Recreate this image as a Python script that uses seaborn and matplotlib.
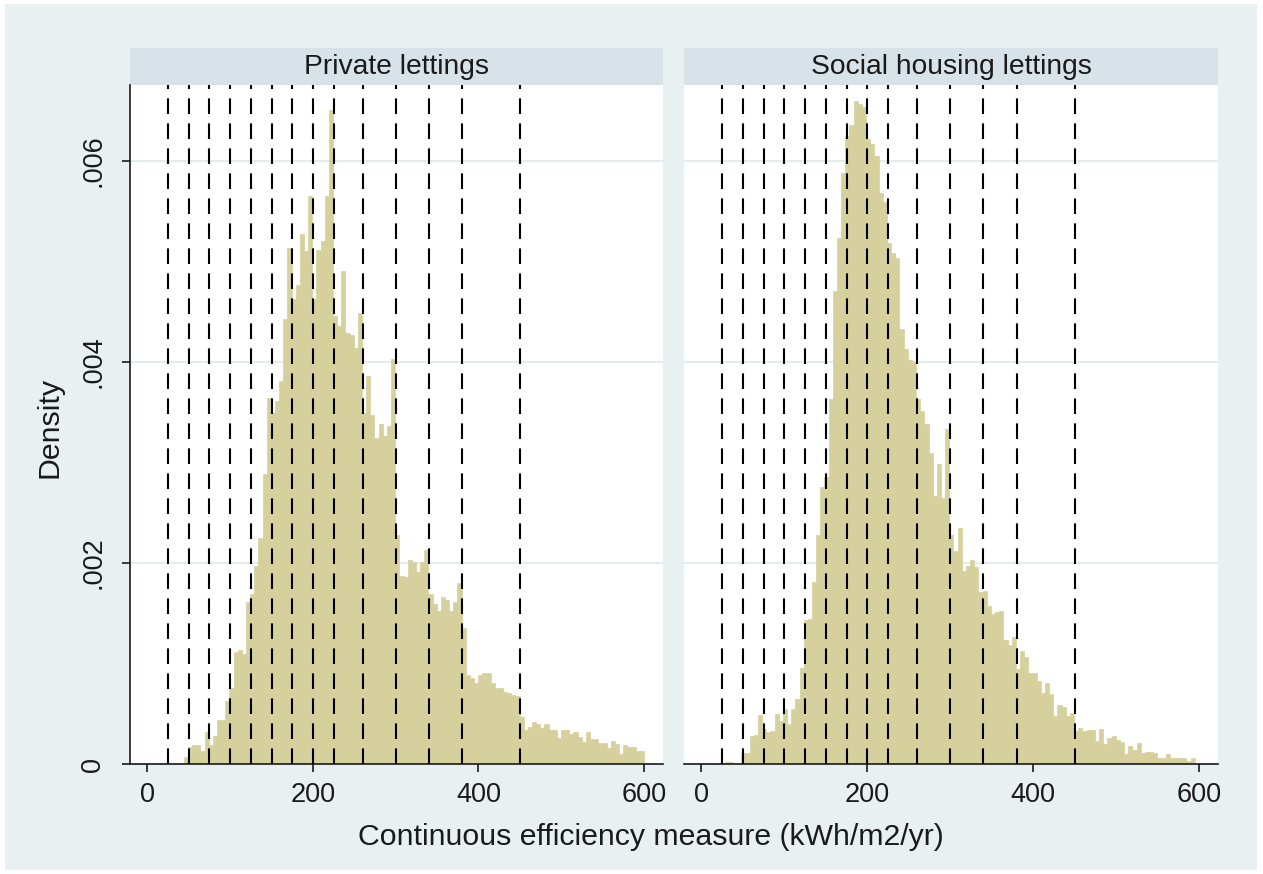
import numpy as np
import pandas as pd
import matplotlib.pyplot as plt
from matplotlib.patches import Rectangle
import seaborn as sns

# histogram range (kWh/m2/yr) per panel; one bar per value below
private_range = (44, 600)
social_range = (23, 600)

# bar heights, density x 10^-4
private_density = [
    0.7, 1.7, 1.9, 1.9, 1.3, 3.2, 1.9, 2.8, 4.4, 4.4,
    6.3, 7.6, 11.1, 11.3, 10.9, 16.1, 16.9, 19.7, 22.5, 28.9,
    36.4, 34.9, 36.1, 38.1, 44.3, 51.3, 46.3, 47.7, 52.7, 51.0,
    56.5, 46.3, 51.1, 52.0, 56.5, 65.1, 44.6, 43.6, 49.1, 42.9,
    42.7, 41.4, 44.9, 34.9, 38.6, 34.7, 32.4, 33.8, 32.6, 33.6,
    40.3, 22.8, 18.7, 18.6, 20.3, 20.1, 19.1, 20.1, 21.3, 16.9,
    15.9, 15.2, 16.6, 16.3, 15.2, 16.1, 18.0, 13.5, 8.9, 8.6,
    8.1, 8.9, 9.1, 9.1, 8.1, 7.6, 7.6, 7.2, 7.1, 6.9,
    6.8, 4.7, 3.4, 3.7, 4.2, 4.0, 3.6, 4.0, 3.4, 3.4,
    2.6, 3.4, 3.4, 3.0, 3.2, 2.7, 2.2, 3.2, 2.5, 2.5,
    2.1, 2.1, 1.6, 2.3, 2.0, 1.0, 1.9, 1.7, 1.7, 1.3, 1.3,
]
social_density = [
    0.1, 0.2, 0.2, 0.1, 0.1, 1.1, 1.1, 2.8, 2.9, 4.9,
    3.5, 3.2, 3.3, 5.0, 4.3, 5.5, 4.0, 5.5, 6.5, 9.6,
    14.3, 14.4, 18.1, 22.8, 27.6, 28.6, 36.3, 47.1, 52.3, 58.8,
    62.5, 63.6, 66.0, 65.7, 65.4, 62.2, 61.7, 60.5, 56.8, 55.9,
    51.8, 50.8, 50.3, 43.3, 41.3, 40.2, 40.0, 36.3, 35.1, 33.8,
    30.9, 26.7, 29.9, 26.5, 33.3, 22.8, 21.2, 23.5, 19.2, 19.7,
    20.3, 19.6, 17.1, 17.2, 15.7, 14.9, 15.1, 15.2, 12.3, 11.8,
    12.6, 9.5, 11.2, 10.6, 9.1, 9.1, 8.3, 7.1, 8.1, 7.0,
    4.8, 5.9, 5.7, 4.8, 5.1, 3.3, 3.6, 3.3, 3.4, 3.4,
    2.3, 3.5, 2.0, 2.6, 2.8, 2.4, 2.2, 1.0, 1.8, 1.4,
    2.1, 1.1, 1.2, 1.2, 1.1, 0.6, 0.6, 1.0, 0.6, 0.6,
    0.6, 0.6, 0.3, 0.6, 0.1,
]

# dashed band cut-offs
cutoffs = [25, 50, 75, 100, 125, 150, 175, 200, 225, 260, 300, 340, 380, 450]

panel_titles = ['Private lettings', 'Social housing lettings']
x_ticks = [0, 200, 400, 600]
x_tick_labels = ['0', '200', '400', '600']
y_ticks = [0, 0.002, 0.004, 0.006]
y_tick_labels = ['0', '.002', '.004', '.006']


def make_frame(rng, dens, name):
    n = len(dens)
    width = (rng[1] - rng[0]) / n
    mids = rng[0] + width * (np.arange(n) + 0.5)
    return pd.DataFrame({'mid': mids, 'density': np.array(dens) * 1e-4, 'panel': name})


df = pd.concat([make_frame(private_range, private_density, panel_titles[0]),
                make_frame(social_range, social_density, panel_titles[1])],
               ignore_index=True)

sns.set_style('white')
plt.rcParams['font.family'] = ['Liberation Sans', 'DejaVu Sans']

bg_color = '#e9f0f2'
strip_color = '#d8e3e9'
bar_color = '#d6d09d'
grid_color = '#e2ecec'
ink = '#1a1a1a'

W, H = 1263, 874
fig = plt.figure(figsize=(W / 100, H / 100), dpi=100, facecolor='white')
fig.add_artist(Rectangle((5 / W, 4 / H), 1252 / W, 866 / H, transform=fig.transFigure,
                         facecolor=bg_color, edgecolor='none', zorder=-5))

# panel boxes in pixels: left, right
panels = [(130, 663), (684, 1218)]
top_px, bottom_px, strip_top_px = 85, 764, 48
ranges = [private_range, social_range]
counts = [len(private_density), len(social_density)]

for k, (name, (l, r)) in enumerate(zip(panel_titles, panels)):
    ax = fig.add_axes([l / W, 1 - bottom_px / H, (r - l) / W, (bottom_px - top_px) / H])
    ax.set_facecolor('white')
    sub = df[df['panel'] == name].reset_index(drop=True)
    sns.histplot(data=sub, x='mid', weights='density', bins=counts[k],
                 binrange=ranges[k], stat='count',
                 color=bar_color, alpha=1, edgecolor=bar_color, linewidth=0.5, ax=ax)

    for c in cutoffs:
        ax.axvline(c, color='black', lw=1.5, linestyle=(0, (7.5, 4.5)), zorder=3)

    ax.set_xlim(-21, 623)
    ax.set_ylim(0, (bottom_px - top_px) / 100500)
    ax.set_xlabel('')
    ax.set_ylabel('')
    ax.set_yticks(y_ticks)
    ax.grid(axis='y', color=grid_color, lw=1.3)
    ax.set_axisbelow(True)
    ax.set_xticks(x_ticks)
    ax.set_xticklabels(x_tick_labels)
    ax.tick_params(axis='x', direction='out', length=6, width=1.2, color=ink,
                   labelsize=19.5, labelcolor=ink, pad=7, bottom=True)
    for s in ['top', 'right']:
        ax.spines[s].set_visible(False)
    ax.spines['bottom'].set_color(ink)
    ax.spines['bottom'].set_linewidth(1.2)
    if k == 0:
        ax.set_yticklabels(y_tick_labels, rotation=90, va='center')
        ax.tick_params(axis='y', direction='out', length=6, width=1.2, color=ink,
                       labelsize=19.5, labelcolor=ink, pad=11, left=True)
        ax.spines['left'].set_color(ink)
        ax.spines['left'].set_linewidth(1.2)
    else:
        ax.set_yticklabels([])
        ax.tick_params(axis='y', left=False)
        ax.spines['left'].set_visible(False)

    # facet header strip
    fig.add_artist(Rectangle((l / W, 1 - top_px / H), (r - l) / W, (top_px - strip_top_px) / H,
                             transform=fig.transFigure, facecolor=strip_color,
                             edgecolor='none', zorder=-1))
    fig.text((l + r) / 2 / W, 1 - (top_px + strip_top_px) / 2 / H, name,
             ha='center', va='center', fontsize=20.3, color=ink)

fig.text(50 / W, 1 - 428 / H, 'Density', rotation=90, ha='center', va='center',
         fontsize=21.8, color=ink)
fig.text(651 / W, 1 - 837 / H, 'Continuous efficiency measure (kWh/m2/yr)',
         ha='center', va='center', fontsize=21.8, color=ink)

fig.savefig('out.png', dpi=100, facecolor='white')
